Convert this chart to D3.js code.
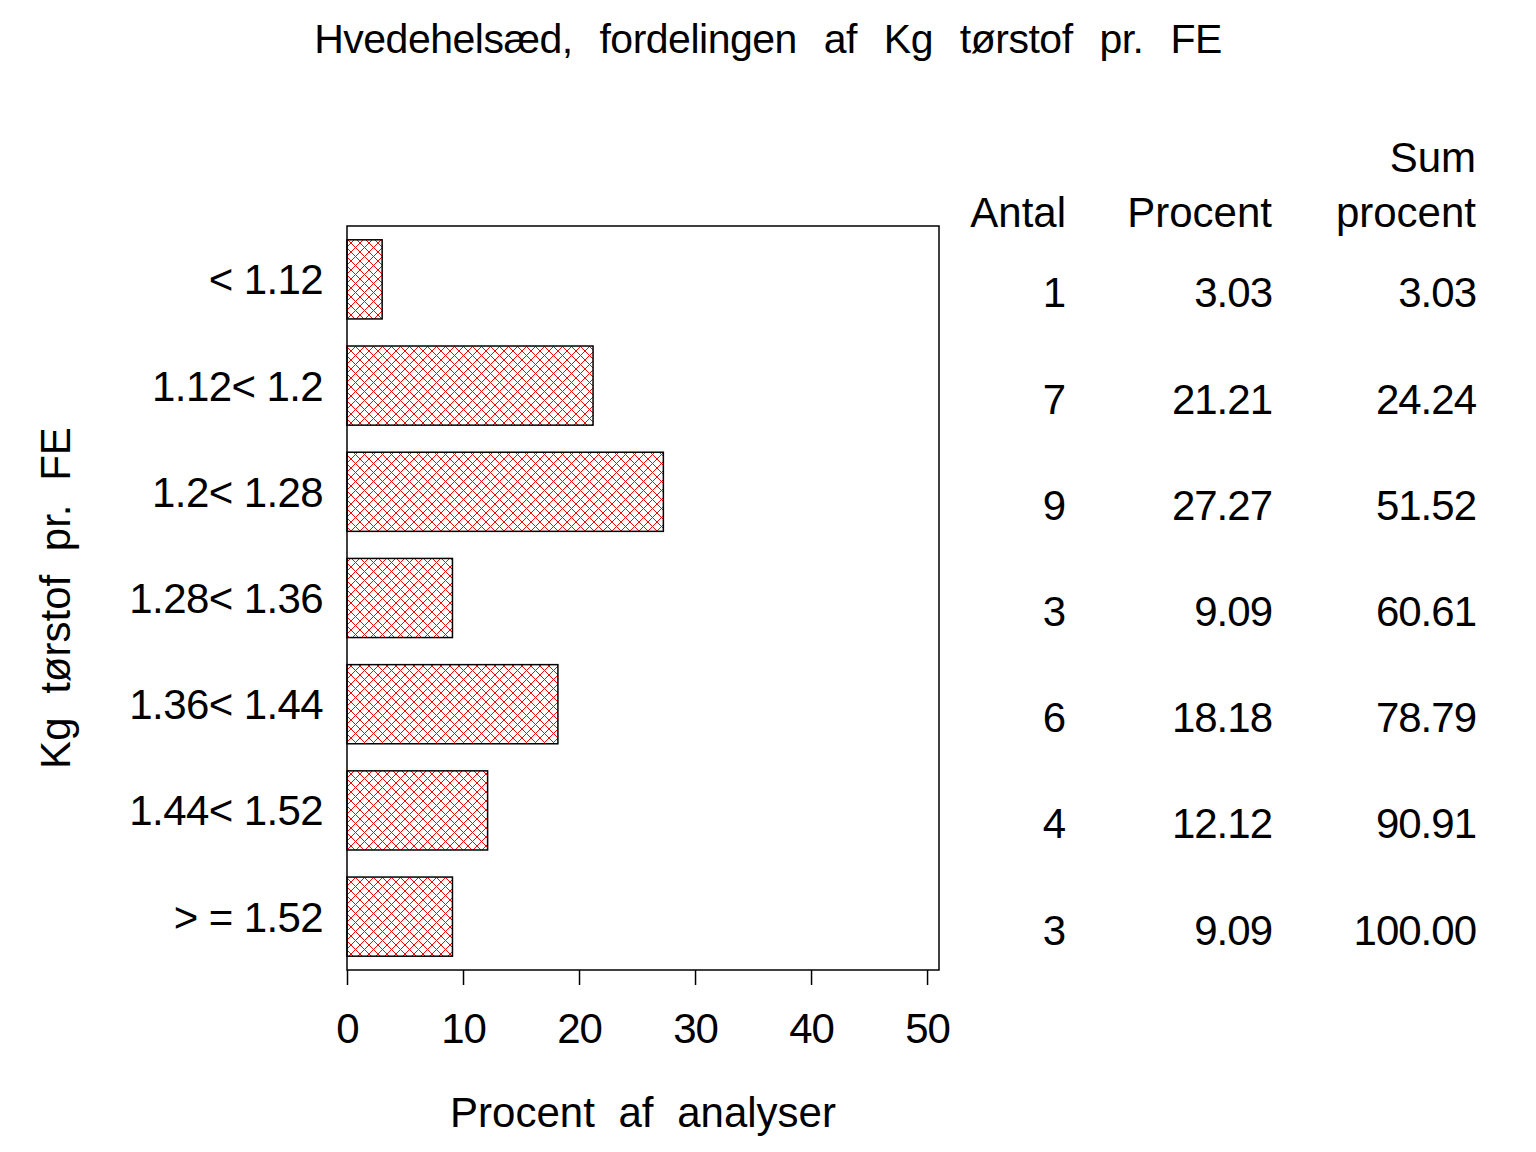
<!DOCTYPE html>
<html><head><meta charset="utf-8">
<script src="https://cdn.jsdelivr.net/npm/d3@7"></script>
<style>
html,body{margin:0;padding:0;background:#fff;}
text{font-family:"Liberation Sans",Arial,Helvetica,sans-serif;fill:#000;}
</style></head>
<body>
<script>
const categories = ["< 1.12","1.12< 1.2","1.2< 1.28","1.28< 1.36","1.36< 1.44","1.44< 1.52","> = 1.52"];
const counts = [1,7,9,3,6,4,3];
const percents = [3.03,21.21,27.27,9.09,18.18,12.12,9.09];
const cumPercents = [3.03,24.24,51.52,60.61,78.79,90.91,100.00];
const xTicks = [0,10,20,30,40,50];
const title = "Hvedehelsæd, fordelingen af Kg tørstof pr. FE";
const xLabel = "Procent af analyser";
const yLabel = "Kg tørstof pr. FE";

const W = 1536, H = 1152;
const FS = "42px";
const frame = {left:347, right:939, top:226, bottom:970};
const svg = d3.select("body").append("svg").attr("width",W).attr("height",H);

const defs = svg.append("defs");
const pat = defs.append("pattern").attr("id","hatch").attr("patternUnits","userSpaceOnUse")
  .attr("width",9).attr("height",9);
pat.append("path").attr("d","M0,0L9,9M9,0L0,9").attr("stroke","#ff0000").attr("stroke-width",1)
  .attr("shape-rendering","crispEdges");

const x = d3.scaleLinear().domain([0,51.03]).range([frame.left,frame.right]);
const y = d3.scaleBand().domain(categories).range([frame.top,frame.bottom]).paddingInner(0.255).paddingOuter(0.13);

// title
svg.append("text").attr("x",768).attr("y",53).attr("text-anchor","middle")
  .style("font-size","41px").style("letter-spacing","-0.5px").style("word-spacing","16px").text(title);

// bars
svg.selectAll("rect.bar").data(categories).join("rect").attr("class","bar")
  .attr("x",x(0)).attr("y",d=>y(d))
  .attr("width",(d,i)=>x(percents[i])-x(0)).attr("height",y.bandwidth())
  .attr("fill","url(#hatch)").attr("stroke","#000").attr("stroke-width",1.5);

// frame
svg.append("rect").attr("x",frame.left).attr("y",frame.top)
  .attr("width",frame.right-frame.left).attr("height",frame.bottom-frame.top)
  .attr("fill","none").attr("stroke","#000").attr("stroke-width",1.5);

// x axis
const xa = svg.append("g").attr("transform",`translate(0,${frame.bottom})`)
  .call(d3.axisBottom(x).tickValues(xTicks).tickSize(15).tickPadding(28).tickFormat(d3.format("d")));
xa.select(".domain").remove();
xa.selectAll("line").attr("stroke","#000").attr("stroke-width",1.5);
xa.selectAll("text").style("font-size",FS).style("letter-spacing","-1px")
  .style("font-family","'Liberation Sans',Arial,sans-serif").attr("fill","#000");

// y tick labels
svg.selectAll("text.ylab").data(categories).join("text").attr("class","ylab")
  .attr("x",323).attr("y",d=>y(d)+y.bandwidth()/2+15).attr("text-anchor","end")
  .style("font-size",FS).style("letter-spacing","-0.6px").text(d=>d);

// axis labels
svg.append("text").attr("x",(frame.left+frame.right)/2).attr("y",1127).attr("text-anchor","middle")
  .style("font-size",FS).style("word-spacing","12px").text(xLabel);
svg.append("text").attr("transform",`translate(70,${(frame.top+frame.bottom)/2}) rotate(-90)`)
  .attr("text-anchor","middle").style("font-size",FS).style("word-spacing","12px").text(yLabel);

// table
const colX = [1066,1272,1476];
const hdr = svg.append("g").style("font-size",FS).attr("text-anchor","end");
hdr.append("text").attr("x",colX[0]).attr("y",227).text("Antal");
hdr.append("text").attr("x",colX[1]).attr("y",227).text("Procent");
hdr.append("text").attr("x",colX[2]).attr("y",172).text("Sum");
hdr.append("text").attr("x",colX[2]).attr("y",227).text("procent");

const rowY = d => y(d)+y.bandwidth()/2+28;
const fmt = d3.format(".2f");
svg.selectAll("text.c0").data(categories).join("text").attr("class","c0")
  .attr("x",colX[0]).attr("y",rowY).attr("text-anchor","end").style("font-size",FS)
  .text((d,i)=>counts[i]);
svg.selectAll("text.c1").data(categories).join("text").attr("class","c1")
  .attr("x",colX[1]).attr("y",rowY).attr("text-anchor","end").style("font-size",FS).style("letter-spacing","-1px")
  .text((d,i)=>fmt(percents[i]));
svg.selectAll("text.c2").data(categories).join("text").attr("class","c2")
  .attr("x",colX[2]).attr("y",rowY).attr("text-anchor","end").style("font-size",FS).style("letter-spacing","-1px")
  .text((d,i)=>fmt(cumPercents[i]));
</script>
</body></html>
